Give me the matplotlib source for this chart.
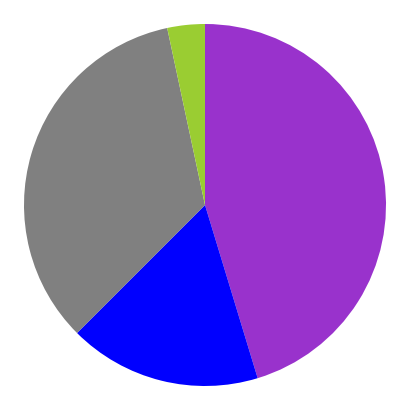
import matplotlib
matplotlib.use("Agg")
import matplotlib.pyplot as plt

# slice values (clockwise from 12 o'clock)
labels = ["A", "B", "C", "D"]
values = [45.3, 17.2, 34.15, 3.35]
colors = ["#9932CC", "#0000FF", "#808080", "#9ACD32"]

fig = plt.figure(figsize=(4.11, 4.20), dpi=100)
ax = fig.add_axes([24 / 411, (420 - 386) / 420, 362 / 411, 362 / 420])

ax.pie(values, colors=colors, startangle=90, counterclock=False,
       wedgeprops=dict(linewidth=0, antialiased=True))
ax.set_xlim(-1, 1)
ax.set_ylim(-1, 1)
ax.set_aspect("equal")
ax.axis("off")

fig.savefig("out.png", dpi=100, facecolor="white")
